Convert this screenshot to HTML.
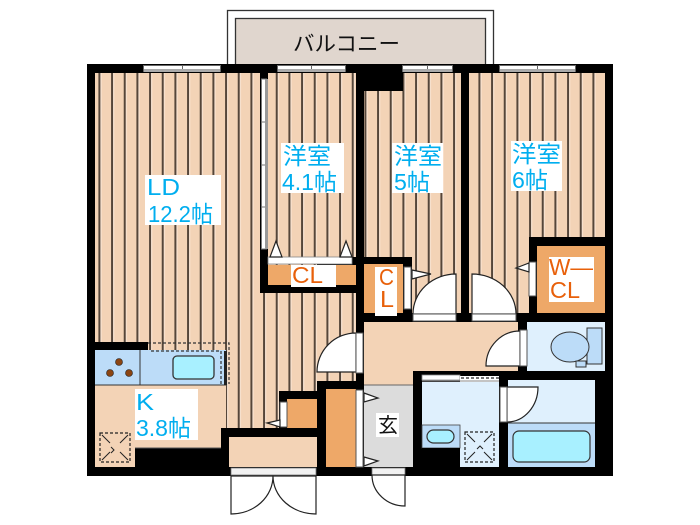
<!DOCTYPE html>
<html><head><meta charset="utf-8"><style>
html,body{margin:0;padding:0;background:#fff;width:700px;height:525px;overflow:hidden}
svg{display:block}
text{font-family:"Liberation Sans","Noto Sans CJK JP",sans-serif}
.b{fill:#00aeef;font-size:23px}
.o{fill:#e8600a;font-size:23px}
.d{fill:#fff;stroke:#222;stroke-width:1.2}
.t{fill:#fff;stroke:#555;stroke-width:1}
.s{fill:none;stroke:#222;stroke-width:1.2;stroke-dasharray:3 2}
</style></head><body>
<svg width="700" height="525" viewBox="0 0 700 525" xmlns="http://www.w3.org/2000/svg">
<defs>
<pattern id="w" patternUnits="userSpaceOnUse" x="98.4" y="0" width="12.667" height="20">
<rect width="12.667" height="20" fill="#f3d3b6"/>
<rect x="2" width="1.2" height="20" fill="#fae6d5"/>
<rect x="0" width="2" height="20" fill="#55463a"/>
</pattern>
</defs>
<!-- balcony -->
<rect x="227.5" y="10.5" width="266" height="56" fill="#fff" stroke="#333" stroke-width="1.3"/>
<rect x="235.5" y="18.5" width="250" height="48" fill="#e0d6ce" stroke="#333" stroke-width="1.3"/>
<text x="293" y="51" font-size="21" fill="#111" textLength="107" lengthAdjust="spacingAndGlyphs">バルコニー</text>
<!-- structure -->
<rect x="87" y="64" width="526" height="412" fill="#000"/>
<!-- wood -->
<rect x="95" y="73" width="165" height="269" fill="url(#w)"/>
<rect x="148" y="342" width="78" height="43" fill="url(#w)"/>
<rect x="226" y="250" width="91" height="178" fill="url(#w)"/>
<rect x="260" y="293" width="96" height="88" fill="url(#w)"/>
<rect x="268" y="73" width="88" height="184" fill="url(#w)"/>
<rect x="364" y="91" width="39" height="166" fill="url(#w)"/>
<rect x="403" y="73" width="58" height="240" fill="url(#w)"/>
<rect x="469" y="73" width="136" height="164" fill="url(#w)"/>
<rect x="469" y="237" width="60" height="76" fill="url(#w)"/>
<!-- wall pieces over wood -->
<rect x="260" y="250" width="8" height="43" fill="#000"/>
<rect x="260" y="285" width="104" height="8" fill="#000"/>
<rect x="356" y="64" width="8" height="258" fill="#000"/>
<rect x="356" y="64" width="47" height="27" fill="#000"/>
<rect x="364" y="257" width="48" height="65" fill="#000"/>
<rect x="279" y="391" width="38" height="37" fill="#000"/>
<rect x="317" y="381" width="40" height="95" fill="#000"/>
<rect x="221" y="428" width="96" height="48" fill="#000"/>
<!-- kitchen floor -->
<path d="M95 385H226V428H221V448H135V467H95Z" fill="#f3d3b6"/>
<path d="M135 448H221" stroke="#555" stroke-width="1"/>
<rect x="95" y="342" width="53" height="8" fill="#000"/>
<rect x="95" y="350" width="131" height="35" fill="#bcdcf8"/>
<path d="M95 385H226M140 350V385" stroke="#333" stroke-width="1"/>
<rect x="224" y="351" width="3" height="34" fill="#222"/>
<circle cx="119" cy="362" r="3.5" fill="#8b4513" stroke="#222" stroke-width=".6"/>
<circle cx="110" cy="373" r="3.5" fill="#8b4513" stroke="#222" stroke-width=".6"/>
<circle cx="129" cy="373" r="3.5" fill="#8b4513" stroke="#222" stroke-width=".6"/>
<rect x="173" y="356" width="41" height="23" rx="4" fill="#a8f0ff" stroke="#333" stroke-width="1.3"/>
<path d="M148 343H229V384" fill="none" stroke="#333" stroke-width="1.2" stroke-dasharray="3 2"/>
<path d="M151 351H221V384" fill="none" stroke="#333" stroke-width="1.2" stroke-dasharray="3 2"/>
<rect x="100" y="433" width="30" height="29" class="s"/>
<path d="M102 435l8 8M128 435l-8 8M102 460l8-8M128 460l-8-8M111 447l3 3-3 3" fill="none" stroke="#222" stroke-width="1"/>
<!-- orange storage -->
<rect x="268" y="265" width="88" height="20" fill="#eea868"/>
<rect x="268" y="257" width="84" height="7" fill="#fff" stroke="#888" stroke-width=".8"/>
<rect x="364" y="264" width="39" height="49" fill="#eea868"/>
<rect x="537" y="246" width="68" height="67" fill="#eea868"/>
<rect x="287" y="399" width="30" height="29" fill="#eea868"/>
<rect x="326" y="389" width="30" height="78" fill="#eea868"/>
<!-- foyer and hall -->
<rect x="229" y="437" width="88" height="30" fill="#f3d3b6"/>
<path d="M364 322H518V371H413V385H364Z" fill="#f3d3b6"/>
<rect x="364" y="385" width="49" height="82" fill="#dcdcdc"/>
<path d="M364 385H413" stroke="#666"/>
<!-- toilet -->
<rect x="527" y="322" width="78" height="49" fill="#dff0fd"/>
<rect x="587" y="328" width="15" height="36" fill="#bcdcf8" stroke="#333"/>
<ellipse cx="570" cy="347" rx="19" ry="15" fill="#bcdcf8" stroke="#333"/>
<rect x="576" y="361" width="10" height="6" fill="#bcdcf8" stroke="#333"/>
<!-- wash -->
<rect x="422" y="382" width="77" height="85" fill="#dff0fd"/>
<rect x="422" y="425" width="38" height="23" fill="#bcdcf8" stroke="#444" stroke-width=".8"/>
<rect x="427" y="430" width="27" height="13" rx="6.5" fill="#a8f0ff" stroke="#333" stroke-width="1.2"/>
<rect x="422" y="448" width="38" height="19" fill="#000"/>
<rect x="465" y="432" width="29" height="30" class="s"/>
<path d="M467 434l8 8M492 434l-8 8M467 460l8-8M492 460l-8-8M477 449l3-3 3 3" fill="none" stroke="#222" stroke-width="1"/>
<rect x="422" y="375" width="38" height="5" fill="#fff" stroke="#888" stroke-width=".8"/>
<rect x="460" y="376" width="39" height="6" fill="#fff"/>
<path d="M422 381H499" stroke="#888" stroke-width="1"/>
<path d="M461 378H499" stroke="#222" stroke-width="1.2" stroke-dasharray="3 2"/>
<!-- bath -->
<rect x="508" y="380" width="87" height="87" fill="#dff0fd"/>
<rect x="508" y="423" width="87" height="44" fill="#bcdcf8"/>
<path d="M508 423H595" stroke="#333"/>
<rect x="513" y="431" width="77" height="31" rx="6" fill="#a8f0ff" stroke="#333" stroke-width="1.2"/>
<!-- doors -->
<path d="M456 274A43 40 0 0 0 413 314H456Z" class="d"/>
<rect x="413" y="314" width="43" height="7" class="t"/>
<path d="M472 274A44 40 0 0 1 516 314H472Z" class="d"/>
<rect x="472" y="314" width="44" height="7" class="t"/>
<path d="M356 333A39 39 0 0 0 317 372H356Z" class="d"/>
<rect x="356" y="333" width="7" height="40" class="t"/>
<path d="M520 331A34 35 0 0 0 486 366H520Z" class="d"/>
<rect x="520" y="330" width="7" height="36" class="t"/>
<path d="M507 387H538A31 35 0 0 1 507 422Z" class="d"/>
<rect x="500" y="387" width="7" height="35" class="t"/>
<rect x="404" y="267" width="7" height="42" class="t"/>
<rect x="529" y="262" width="7" height="34" class="t"/>
<rect x="280" y="402" width="7" height="25" class="t"/>
<rect x="356" y="390" width="7" height="77" class="t"/>
<!-- triangles -->
<path d="M412 270L431 274L412 279Z" class="d"/>
<path d="M529 263V272L516 268Z" class="d"/>
<path d="M280 420V427L267 423Z" class="d"/>
<path d="M364 393L378 398L364 402Z" class="d"/>
<path d="M364 457L378 461L364 466Z" class="d"/>
<path d="M270 257L276 241L282 257Z" class="d"/>
<path d="M340 257L346 241L352 257Z" class="d"/>
<!-- entry doors -->
<rect x="231" y="468" width="85" height="7" fill="#f2f2f2" stroke="#777" stroke-width=".8"/>
<path d="M231 476V514A42 38 0 0 0 273 476Z" class="d"/>
<path d="M316 476V514A43 38 0 0 1 273 476Z" class="d"/>
<rect x="372" y="468" width="33" height="7" fill="#f2f2f2" stroke="#777" stroke-width=".8"/>
<path d="M405 475V506A33 31 0 0 1 372 475Z" class="d"/>
<!-- top windows -->
<g fill="#fff" stroke="#666" stroke-width="1">
<rect x="143.5" y="65.5" width="39" height="6"/><rect x="182.5" y="65.5" width="38" height="6"/>
<rect x="277.5" y="65.5" width="34" height="6"/><rect x="311.5" y="65.5" width="34" height="6"/>
<rect x="402.5" y="65.5" width="25" height="6"/><rect x="427.5" y="65.5" width="25" height="6"/>
<rect x="499.5" y="65.5" width="38" height="6"/><rect x="537.5" y="65.5" width="38" height="6"/>
<rect x="261.5" y="79" width="5" height="43" stroke="#777"/><rect x="261.5" y="122" width="5" height="43" stroke="#777"/><rect x="261.5" y="165" width="5" height="42" stroke="#777"/><rect x="261.5" y="207" width="5" height="42" stroke="#777"/>
</g>
<g fill="#aaa">
<rect x="144" y="69" width="76" height="3"/><rect x="278" y="69" width="67" height="3"/><rect x="403" y="69" width="49" height="3"/><rect x="500" y="69" width="75" height="3"/>
</g>
<rect x="265" y="79" width="3" height="170" fill="#999"/>
<!-- label backgrounds -->
<g fill="#fff">
<rect x="145" y="175" width="76" height="50"/>
<rect x="281" y="143" width="63" height="50"/>
<rect x="392" y="143" width="51" height="50"/>
<rect x="511" y="141" width="51" height="50"/>
<rect x="135" y="389" width="63" height="51"/>
<rect x="291" y="265" width="45" height="22"/>
<rect x="375" y="267" width="22" height="49"/>
<rect x="549" y="257" width="45" height="45"/>
<rect x="376" y="413" width="23" height="24"/>
</g>
<!-- labels -->
<text class="b" x="147" y="195" textLength="33" lengthAdjust="spacingAndGlyphs">LD</text>
<text class="b" x="148" y="222" textLength="65" lengthAdjust="spacingAndGlyphs">12.2帖</text>
<text class="b" x="283" y="164" textLength="48" lengthAdjust="spacingAndGlyphs">洋室</text>
<text class="b" x="282" y="190" textLength="55" lengthAdjust="spacingAndGlyphs">4.1帖</text>
<text class="b" x="394" y="164" textLength="48" lengthAdjust="spacingAndGlyphs">洋室</text>
<text class="b" x="394" y="190" textLength="36" lengthAdjust="spacingAndGlyphs">5帖</text>
<text class="b" x="512" y="162" textLength="49" lengthAdjust="spacingAndGlyphs">洋室</text>
<text class="b" x="512" y="188" textLength="36" lengthAdjust="spacingAndGlyphs">6帖</text>
<text class="b" x="136" y="410" textLength="18" lengthAdjust="spacingAndGlyphs">K</text>
<text class="b" x="136" y="436" textLength="55" lengthAdjust="spacingAndGlyphs">3.8帖</text>
<text class="o" x="292" y="283" textLength="31" lengthAdjust="spacingAndGlyphs">CL</text>
<text class="o" x="379" y="285" textLength="15" lengthAdjust="spacingAndGlyphs">C</text>
<text class="o" x="380" y="307" textLength="14" lengthAdjust="spacingAndGlyphs">L</text>
<text class="o" x="549" y="275" textLength="44" lengthAdjust="spacingAndGlyphs">W—</text>
<text class="o" x="550" y="298" textLength="30" lengthAdjust="spacingAndGlyphs">CL</text>
<text x="378" y="432" font-size="20" fill="#111">玄</text>
</svg>
</body></html>
